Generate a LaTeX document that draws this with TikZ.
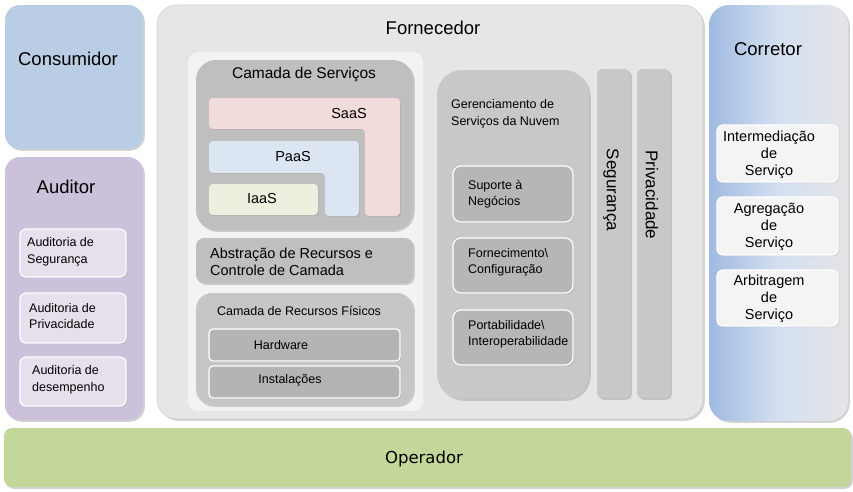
\documentclass[tikz,border=0pt]{standalone}
\usepackage{fontspec}
\setmainfont{Liberation Sans}
\newfontfamily\opfont{DejaVu Sans}
\usetikzlibrary{shadows,fit}
\definecolor{consc}{HTML}{B9CDE5}
\definecolor{audc}{HTML}{CCC1DA}
\definecolor{audsub}{HTML}{E6E0EC}
\definecolor{fornc}{HTML}{E6E6E6}
\definecolor{panelc}{HTML}{F3F3F3}
\definecolor{layerc}{HTML}{BFBFBF}
\definecolor{physc}{HTML}{C6C6C6}
\definecolor{physsub}{HTML}{B4B4B4}
\definecolor{mgmtc}{HTML}{C8C8C8}
\definecolor{mgmtsub}{HTML}{B6B6B6}
\definecolor{barc}{HTML}{C8C8C8}
\definecolor{saasc}{HTML}{F2DCDB}
\definecolor{paasc}{HTML}{DCE6F2}
\definecolor{iaasc}{HTML}{EBF1DE}
\definecolor{corrl}{HTML}{9FBAE0}
\definecolor{corrr}{HTML}{E4E4E4}
\definecolor{corrsub}{HTML}{F4F4F4}
\definecolor{operc}{HTML}{C4D79B}
\definecolor{edgec}{HTML}{B0B0B0}
\begin{document}
\begin{tikzpicture}[x=1pt,y=-1pt,
  shbox/.style={rectangle, inner sep=0pt, draw=none,
    drop shadow={opacity=0.35, shadow xshift=1.8pt, shadow yshift=-1.8pt}},
  subbox/.style={rectangle, inner sep=0pt, rounded corners=6pt, draw=white, line width=1.2pt,
    drop shadow={opacity=0.25, shadow xshift=1.2pt, shadow yshift=-1.2pt}},
  bigtitle/.style={font=\fontsize{18.5}{22}\selectfont, inner sep=0pt},
  midtxt/.style={font=\fontsize{14.5}{17}\selectfont, inner sep=0pt},
  smalltxt/.style={font=\fontsize{12.5}{16.5}\selectfont, inner sep=0pt},
  lshape/.style={rounded corners=4pt, draw=none,
    drop shadow={opacity=0.25, shadow xshift=1.2pt, shadow yshift=-1.2pt}}
]
\useasboundingbox (0,0) rectangle (853,491);
\fill[white] (0,0) rectangle (853,491);

% Consumidor
\node[shbox, rounded corners=15pt, fill=consc, fit={(5,5) (143,149)}] (cons) {};
\node[bigtitle] (constxt) at (68,59) {Consumidor};

% Auditor
\node[shbox, rounded corners=15pt, fill=audc, fit={(5,157) (143,420)}] (aud) {};
\node[bigtitle] (audtxt) at (66,187) {Auditor};
\node[subbox, fill=audsub, fit={(20,229) (126,277)}] (aud1) {};
\node[smalltxt, align=left, anchor=west] (aud1t) at (27,252) {Auditoria de\\Segurança};
\node[subbox, fill=audsub, fit={(20,293) (126,343)}] (aud2) {};
\node[smalltxt, align=left, anchor=west] (aud2t) at (29,316) {Auditoria de\\Privacidade};
\node[subbox, fill=audsub, fit={(20,357) (126,406)}] (aud3) {};
\node[smalltxt, align=left, anchor=west] (aud3t) at (32,380) {Auditoria de\\desempenho};

% Fornecedor
\node[shbox, rounded corners=20pt, fill=fornc, draw=edgec!60, line width=0.6pt, fit={(157,5) (703,419)}] (forn) {};
\node[bigtitle] (forntxt) at (433,28) {Fornecedor};
\node[rectangle, inner sep=0pt, rounded corners=10pt, fill=panelc, fit={(188,52) (423,411)}] (panel) {};

% Camada de Servicos
\node[shbox, rounded corners=20pt, fill=layerc, fit={(196,60) (413,230)}] (serv) {};
\node[midtxt, font=\fontsize{15.5}{18}\selectfont] (servtxt) at (304,75) {Camada de Serviços};
\path[lshape, fill=saasc] (209,98) -- (400,98) -- (400,216) -- (365,216) -- (365,129) -- (209,129) -- cycle;
\node[midtxt] (saas) at (349,114) {SaaS};
\path[lshape, fill=paasc] (209,141) -- (359,141) -- (359,216) -- (325,216) -- (325,173) -- (209,173) -- cycle;
\node[midtxt] (paas) at (293,157) {PaaS};
\node[rectangle, inner sep=0pt, rounded corners=4pt, fill=iaasc,
  drop shadow={opacity=0.25, shadow xshift=1.2pt, shadow yshift=-1.2pt}, fit={(209,184) (318,215)}] (iaasbox) {};
\node[midtxt] (iaas) at (262,199) {IaaS};

% Abstracao
\node[shbox, rounded corners=8pt, fill=layerc, fit={(196,238) (413,283)}] (abst) {};
\node[midtxt, align=left, anchor=west] (absttxt) at (210,261.5) {Abstração de Recursos e\\Controle de Camada};

% Camada de Recursos Fisicos
\node[shbox, rounded corners=16pt, fill=physc, fit={(196,293) (413,405)}] (phys) {};
\node[smalltxt] (phystxt) at (299,311) {Camada de Recursos Físicos};
\node[subbox, rounded corners=4pt, fill=physsub, fit={(209,329) (400,361)}] (hw) {};
\node[smalltxt] (hwtxt) at (281,345) {Hardware};
\node[subbox, rounded corners=4pt, fill=physsub, fit={(209,366) (400,398)}] (inst) {};
\node[smalltxt] (insttxt) at (290,380) {Instalações};

% Gerenciamento
\node[shbox, rounded corners=25pt, fill=mgmtc, fit={(437,70) (589,399)}] (mgmt) {};
\node[smalltxt, align=left, anchor=west] (mgmttxt) at (451,114) {Gerenciamento de\\Serviços da Nuvem};
\node[subbox, rounded corners=8pt, fill=mgmtsub, fit={(453,166) (573,222)}] (m1) {};
\node[smalltxt, align=left, anchor=west, font=\fontsize{12.5}{16}\selectfont] (m1t) at (468,194) {Suporte à\\Negócios};
\node[subbox, rounded corners=8pt, fill=mgmtsub, fit={(453,238) (573,293)}] (m2) {};
\node[smalltxt, align=left, anchor=west, font=\fontsize{12.5}{16}\selectfont] (m2t) at (468,262) {Fornecimento\textbackslash\\Configuração};
\node[subbox, rounded corners=8pt, fill=mgmtsub, fit={(453,310) (573,365)}] (m3) {};
\node[smalltxt, align=left, anchor=west, font=\fontsize{12.5}{16}\selectfont] (m3t) at (468,334) {Portabilidade\textbackslash\\Interoperabilidade};

% Seguranca / Privacidade
\node[shbox, rounded corners=5pt, fill=barc, fit={(597,69) (630,398)}] (seg) {};
\node[inner sep=0pt, rotate=-90, font=\fontsize{17}{20}\selectfont] (segtxt) at (611,190) {Segurança};
\node[shbox, rounded corners=5pt, fill=barc, fit={(637,69) (670,398)}] (priv) {};
\node[inner sep=0pt, rotate=-90, font=\fontsize{17}{20}\selectfont] (privtxt) at (652,195) {Privacidade};

% Corretor
\node[shbox, rounded corners=20pt, left color=corrl, right color=corrr, middle color=corrl!45!white, fit={(709,5) (848,421)}] (corr) {};
\node[bigtitle] (corrtxt) at (768,49) {Corretor};
\node[subbox, fill=corrsub, fit={(717,125) (838,182)}] (c1) {};
\node[midtxt, align=center] (c1t) at (769,155) {Intermediação\\de\\Serviço};
\node[subbox, fill=corrsub, fit={(717,197) (838,255)}] (c2) {};
\node[midtxt, align=center] (c2t) at (769,227) {Agregação\\de\\Serviço};
\node[subbox, fill=corrsub, fit={(717,270) (838,326)}] (c3) {};
\node[midtxt, align=center] (c3t) at (769,299) {Arbitragem\\de\\Serviço};

% Operador
\node[shbox, rounded corners=8pt, fill=operc, fit={(4,428) (851,487)}] (oper) {};
\node[inner sep=0pt, font=\opfont\fontsize{16.5}{20}\selectfont] (opertxt) at (424,459) {Operador};
\end{tikzpicture}
\end{document}
